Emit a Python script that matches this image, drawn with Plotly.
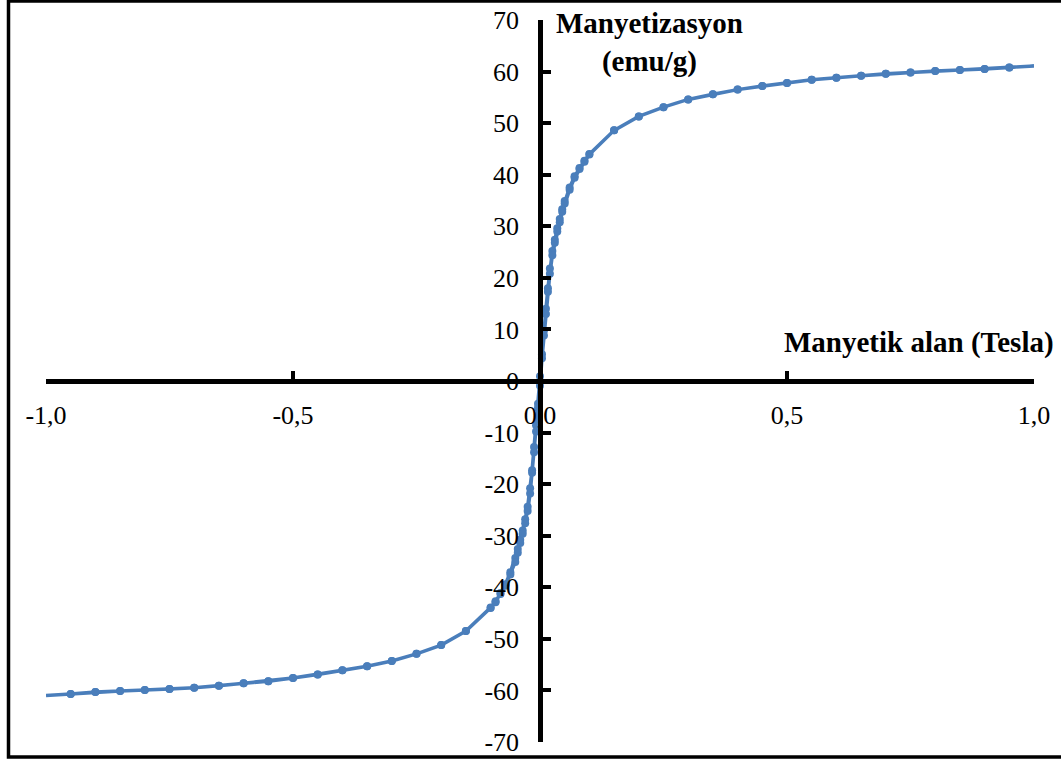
import plotly.graph_objects as go

# ---- data ----
# high-field region, positive side (same for both branches)
H_far_pos = [0.15, 0.2, 0.25, 0.3, 0.35, 0.4, 0.45, 0.5, 0.55, 0.6, 0.65, 0.7, 0.75, 0.8, 0.85, 0.9, 0.95, 1.0]
M_far_pos = [48.6, 51.3, 53.1, 54.6, 55.6, 56.5, 57.2, 57.8, 58.4, 58.8, 59.2, 59.6, 59.8, 60.1, 60.3, 60.5, 60.8, 61.1]

# high-field region, negative side
H_far_neg = [-1.0, -0.95, -0.9, -0.85, -0.8, -0.75, -0.7, -0.65, -0.6, -0.55, -0.5, -0.45, -0.4, -0.35, -0.3, -0.25, -0.2, -0.15]
M_far_neg = [-61.0, -60.7, -60.3, -60.1, -59.9, -59.7, -59.5, -59.1, -58.6, -58.2, -57.6, -56.9, -56.1, -55.3, -54.3, -52.9, -51.2, -48.5]

# low-field region, descending branch (+0.1 -> -0.1)
H_dn_low = [0.1, 0.09, 0.08, 0.07, 0.06, 0.05, 0.045, 0.04, 0.035, 0.03, 0.025, 0.02, 0.016, 0.012, 0.008, 0.004,
            0.0, -0.004, -0.008, -0.012, -0.016, -0.02, -0.025, -0.03, -0.035, -0.04, -0.045, -0.05, -0.06, -0.07,
            -0.08, -0.09, -0.1]
M_dn_low = [44.0, 42.7, 41.3, 39.7, 37.5, 34.9, 33.3, 31.4, 29.6, 27.4, 25.2, 21.8, 18.0, 14.0, 9.8, 5.2,
            0.9, -4.4, -8.6, -12.8, -17.3, -20.8, -24.4, -26.8, -29.0, -30.8, -32.6, -34.3, -37.1, -39.4,
            -41.1, -42.9, -43.9]

# low-field region, ascending branch (-0.1 -> +0.1)
H_up_low = [-0.1, -0.09, -0.08, -0.07, -0.06, -0.05, -0.045, -0.04, -0.035, -0.03, -0.025, -0.02, -0.016, -0.012,
            -0.008, -0.004, 0.0, 0.004, 0.008, 0.012, 0.016, 0.02, 0.025, 0.03, 0.035, 0.04, 0.045, 0.05, 0.06,
            0.07, 0.08, 0.09, 0.1]
M_up_low = [-44.0, -42.7, -41.3, -39.7, -37.5, -35.1, -33.3, -31.4, -29.6, -27.6, -25.2, -21.8, -17.8, -13.8,
            -9.8, -5.2, -0.9, 4.4, 8.8, 13.0, 17.3, 20.8, 24.4, 26.8, 29.0, 30.8, 32.8, 34.4, 37.1,
            39.4, 41.1, 42.5, 43.9]

x_tick_vals = [-1.0, -0.5, 0.0, 0.5, 1.0]
x_tick_text = ["-1,0", "-0,5", "0,0", "0,5", "1,0"]
y_tick_vals = [-70, -60, -50, -40, -30, -20, -10, 0, 10, 20, 30, 40, 50, 60, 70]
y_tick_text = ["-70", "-60", "-50", "-40", "-30", "-20", "-10", "0", "10", "20", "30", "40", "50", "60", "70"]

y_title = "Manyetizasyon<br>(emu/g)"
x_title = "Manyetik alan (Tesla)"

# ---- build the loop path ----
H_loop = H_far_pos[::-1] + H_dn_low + H_far_neg[::-1] + H_far_neg + H_up_low + H_far_pos
M_loop = M_far_pos[::-1] + M_dn_low + M_far_neg[::-1] + M_far_neg + M_up_low + M_far_pos

blue = "#4A7EBB"
font_family = "Liberation Serif, Times New Roman, serif"

fig = go.Figure()
fig.add_trace(go.Scatter(x=H_loop, y=M_loop, mode="lines",
                         line=dict(color=blue, width=3.5), hoverinfo="skip", showlegend=False))
# markers (end points at +/-1 T carry no marker in the reference)
mk_x = [h for h in H_loop if abs(h) < 0.999]
mk_y = [m for h, m in zip(H_loop, M_loop) if abs(h) < 0.999]
fig.add_trace(go.Scatter(x=mk_x, y=mk_y, mode="markers",
                         marker=dict(color=blue, size=8), showlegend=False))

L, R, T, B = 46, 27, 20, 18
W, Hh = 1061, 760
pw = W - L - R
ph = Hh - T - B

def px_x(p):
    return (p - L) / pw

def px_y(p):
    return (Hh - B - p) / ph

fig.update_layout(
    width=W, height=Hh,
    margin=dict(l=L, r=R, t=T, b=B, autoexpand=False),
    paper_bgcolor="white", plot_bgcolor="white",
    font=dict(family=font_family, size=26, color="black"),
    xaxis=dict(range=[-1.0, 1.0], tickvals=x_tick_vals, ticktext=x_tick_text,
               anchor="free", position=0.5, showgrid=False, zeroline=False,
               showline=True, linecolor="black", linewidth=4.5,
               ticks="inside", ticklen=8, tickwidth=4, tickcolor="black",
               ticklabelstandoff=9, automargin=False,
               tickfont=dict(family=font_family, size=26, color="black")),
    yaxis=dict(range=[-70, 70], tickvals=y_tick_vals, ticktext=y_tick_text,
               anchor="free", position=0.5, showgrid=False, zeroline=False,
               showline=True, linecolor="black", linewidth=4.5,
               ticks="inside", ticklen=8, tickwidth=4, tickcolor="black",
               ticklabelstandoff=14, automargin=False,
               tickfont=dict(family=font_family, size=26, color="black")),
    showlegend=False,
)

fig.add_annotation(text="<b>" + y_title + "</b>", xref="paper", yref="paper",
                   x=px_x(649), y=px_y(42), xanchor="center", yanchor="middle",
                   showarrow=False, align="center",
                   font=dict(family=font_family, size=29, color="black"))
fig.add_annotation(text="<b>" + x_title + "</b>", xref="paper", yref="paper",
                   x=px_x(1056), y=px_y(343), xanchor="right", yanchor="middle",
                   showarrow=False,
                   font=dict(family=font_family, size=29, color="black"))

# outer chart border
fig.add_shape(type="rect", xref="paper", yref="paper",
              x0=px_x(8.5), x1=px_x(1070), y0=px_y(757), y1=px_y(1),
              line=dict(color="black", width=3.5), fillcolor="rgba(0,0,0,0)", layer="above")

fig.write_html("out.html", config={"displayModeBar": False},
               post_script="document.body.style.margin='0';document.body.style.overflow='hidden';")
